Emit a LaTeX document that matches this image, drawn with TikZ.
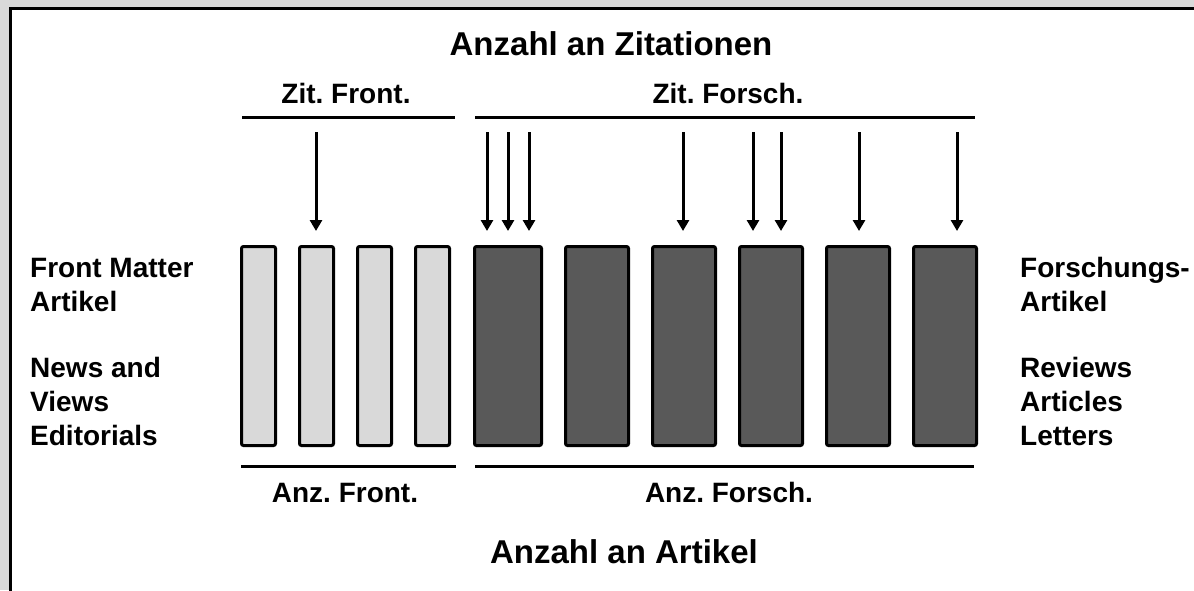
\documentclass[tikz,border=0pt]{standalone}
\usepackage{fontspec}
\setmainfont{Liberation Sans}
\usetikzlibrary{arrows.meta,positioning}
\frenchspacing
\definecolor{pagegrey}{HTML}{D9D9D9}
\definecolor{frontfill}{HTML}{D9D9D9}
\definecolor{forschfill}{HTML}{595959}
\tikzset{
    frontbar/.style={draw,line width=3pt,fill=frontfill,rounded corners=2pt,
        minimum width=34pt,minimum height=199pt,inner sep=0pt},
    forschbar/.style={frontbar,fill=forschfill,minimum width=63pt},
    citearrow/.style={line width=3pt,-{Triangle[length=11pt,width=12pt]}},
    groupline/.style={line width=3pt},
    headtext/.style={font=\fontsize{33}{40}\selectfont\bfseries,anchor=base,inner sep=0pt},
    subtext/.style={font=\fontsize{28}{34}\selectfont\bfseries,anchor=base,inner sep=0pt},
    sidetext/.style={font=\fontsize{28}{34}\selectfont\bfseries,anchor=base west,inner sep=0pt}
}

\begin{document}
\begin{tikzpicture}[x=1pt,y=-1pt,node distance=21pt]
                \useasboundingbox (0,0) rectangle (1194,590);
                \clip (0,0) rectangle (1194,590);
                \fill[pagegrey] (0,0) rectangle (1194,590);
                \draw[line width=2.5pt,fill=white] (10.5,8.5) rectangle (1210,610);

                \node[frontbar] (front1) at (258.5,346) {};
                \node[frontbar,right=of front1] (front2) {};
                \node[frontbar,right=of front2] (front3) {};
                \node[frontbar,right=of front3] (front4) {};
                \node[forschbar,right=22pt of front4,minimum width=67pt] (forsch1) {};
                \node[forschbar,right=of forsch1] (forsch2) {};
                \node[forschbar,right=of forsch2] (forsch3) {};
                \node[forschbar,right=of forsch3] (forsch4) {};
                \node[forschbar,right=of forsch4] (forsch5) {};
                \node[forschbar,right=of forsch5] (forsch6) {};

                \node[headtext] (zitationen) at (611,55) {Anzahl an Zitationen};
                \node[subtext] (zitfront) at (346,103) {Zit. Front.};
                \node[subtext] (zitforsch) at (728,103) {Zit. Forsch.};
                \node[subtext] (anzfront) at (345,502) {Anz. Front.};
                \node[subtext] (anzforsch) at (729,502) {Anz. Forsch.};
                \node[headtext] (artikel) at (624,563) {Anzahl an Artikel};

                \coordinate (zfa) at (242,117);
                \coordinate (zfb) at (455,117);
                \coordinate (zra) at (475,117);
                \coordinate (zrb) at (975,117);
                \coordinate (afa) at (241,466);
                \coordinate (afb) at (456,466);
                \coordinate (ara) at (475,466);
                \coordinate (arb) at (974,466);
                \draw[groupline] (zfa) -- (zfb);
                \draw[groupline] (zra) -- (zrb);
                \draw[groupline] (afa) -- (afb);
                \draw[groupline] (ara) -- (arb);

                \foreach \x [count=\i] in {316,487,508,529,683,753,781,859,957}{
                    \coordinate (citetop\i) at (\x,132);
                    \coordinate (citetip\i) at (\x,231);
                    \draw[citearrow] (citetop\i) -- (citetip\i);
                }

                \foreach \y/\t [count=\i] in {277/Front Matter,311.5/Artikel,377/News and,411/Views,445/Editorials}{
                    \node[sidetext] (frontlabel\i) at (30,\y) {\t};
                }
                \foreach \y/\t [count=\i] in {277/Forschungs-,311.5/Artikel,377/Reviews,411/Articles,445/Letters}{
                    \node[sidetext] (forschlabel\i) at (1020,\y) {\t};
                }
\end{tikzpicture}
\end{document}
